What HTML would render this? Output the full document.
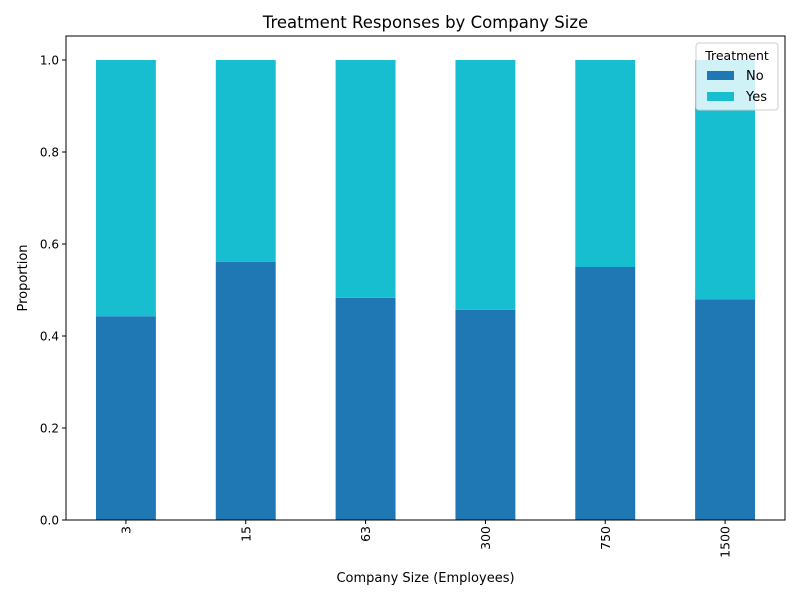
<!DOCTYPE html>
<html><head><meta charset="utf-8"><style>body{margin:0;background:#fff}svg{font-family:"DejaVu Sans","Liberation Sans",sans-serif}</style></head>
<body>
<svg id="chart" width="800" height="600"></svg>
<script>
const categories = ["3","15","63","300","750","1500"];
const noValues = [0.443,0.561,0.483,0.457,0.550,0.480];
const yesValues = [0.557,0.439,0.517,0.543,0.450,0.520];
const yTicks = [0,0.2,0.4,0.6,0.8,1.0];
const yTickLabels = ["0.0","0.2","0.4","0.6","0.8","1.0"];

const svg = document.getElementById('chart');
const NS = 'http://www.w3.org/2000/svg';
const L=66,R=785,T=36,B=520;
const band=(R-L)/categories.length;
const x=i=>L+band*(i+0.5);
const y=v=>B - v*460;
function mk(tag,attrs,text){const e=document.createElementNS(NS,tag);for(const k in attrs)e.setAttribute(k,attrs[k]);if(text!==undefined)e.textContent=text;svg.appendChild(e);return e;}
categories.forEach((c,i)=>{
  const bw=band*0.5, cx=x(i);
  const b1=mk('rect',{x:cx-bw/2,y:y(noValues[i]),width:bw,height:B-y(noValues[i]),fill:'#1f77b4'});
  
  
  const top=noValues[i]+yesValues[i];
  const b2=mk('rect',{x:cx-bw/2,y:y(top),width:bw,height:y(noValues[i])-y(top),fill:'#17becf'});
  
  
  mk('line',{x1:cx,x2:cx,y1:B,y2:B+4,stroke:'#000'});
  const t=mk('text',{x:0,y:0,'font-size':12.5,'text-anchor':'end',transform:`translate(${cx+4.5},${B+6}) rotate(-90)`},c);
  
  
});
yTicks.forEach((v,i)=>{
  mk('line',{x1:L-4,x2:L,y1:y(v),y2:y(v),stroke:'#000'});
  const t=mk('text',{x:L-7,y:y(v)+4.5,'font-size':12,'text-anchor':'end'},yTickLabels[i]);
  
  
});
const frame=mk('rect',{x:L,y:T,width:R-L,height:B-T,fill:'none',stroke:'#000','stroke-width':1});


const title=mk('text',{x:(L+R)/2,y:28,'font-size':16.5,'text-anchor':'middle'},'Treatment Responses by Company Size');


const xt=mk('text',{x:(L+R)/2,y:582,'font-size':13,'text-anchor':'middle'},'Company Size (Employees)');


const yt=mk('text',{x:0,y:0,'font-size':13,'text-anchor':'middle',transform:`translate(27,${(T+B)/2}) rotate(-90)`},'Proportion');


const lg=mk('rect',{x:696,y:43,width:82,height:67,fill:'#fff','fill-opacity':0.8,stroke:'#ccc',rx:3});


mk('text',{x:737,y:60,'font-size':12.5,'text-anchor':'middle'},'Treatment');
mk('rect',{x:707,y:71,width:27,height:9,fill:'#1f77b4'});
const l1=mk('text',{x:746,y:80,'font-size':13},'No');


mk('rect',{x:707,y:92,width:27,height:9,fill:'#17becf'});
const l2=mk('text',{x:746,y:101,'font-size':13},'Yes');


</script>
</body></html>
